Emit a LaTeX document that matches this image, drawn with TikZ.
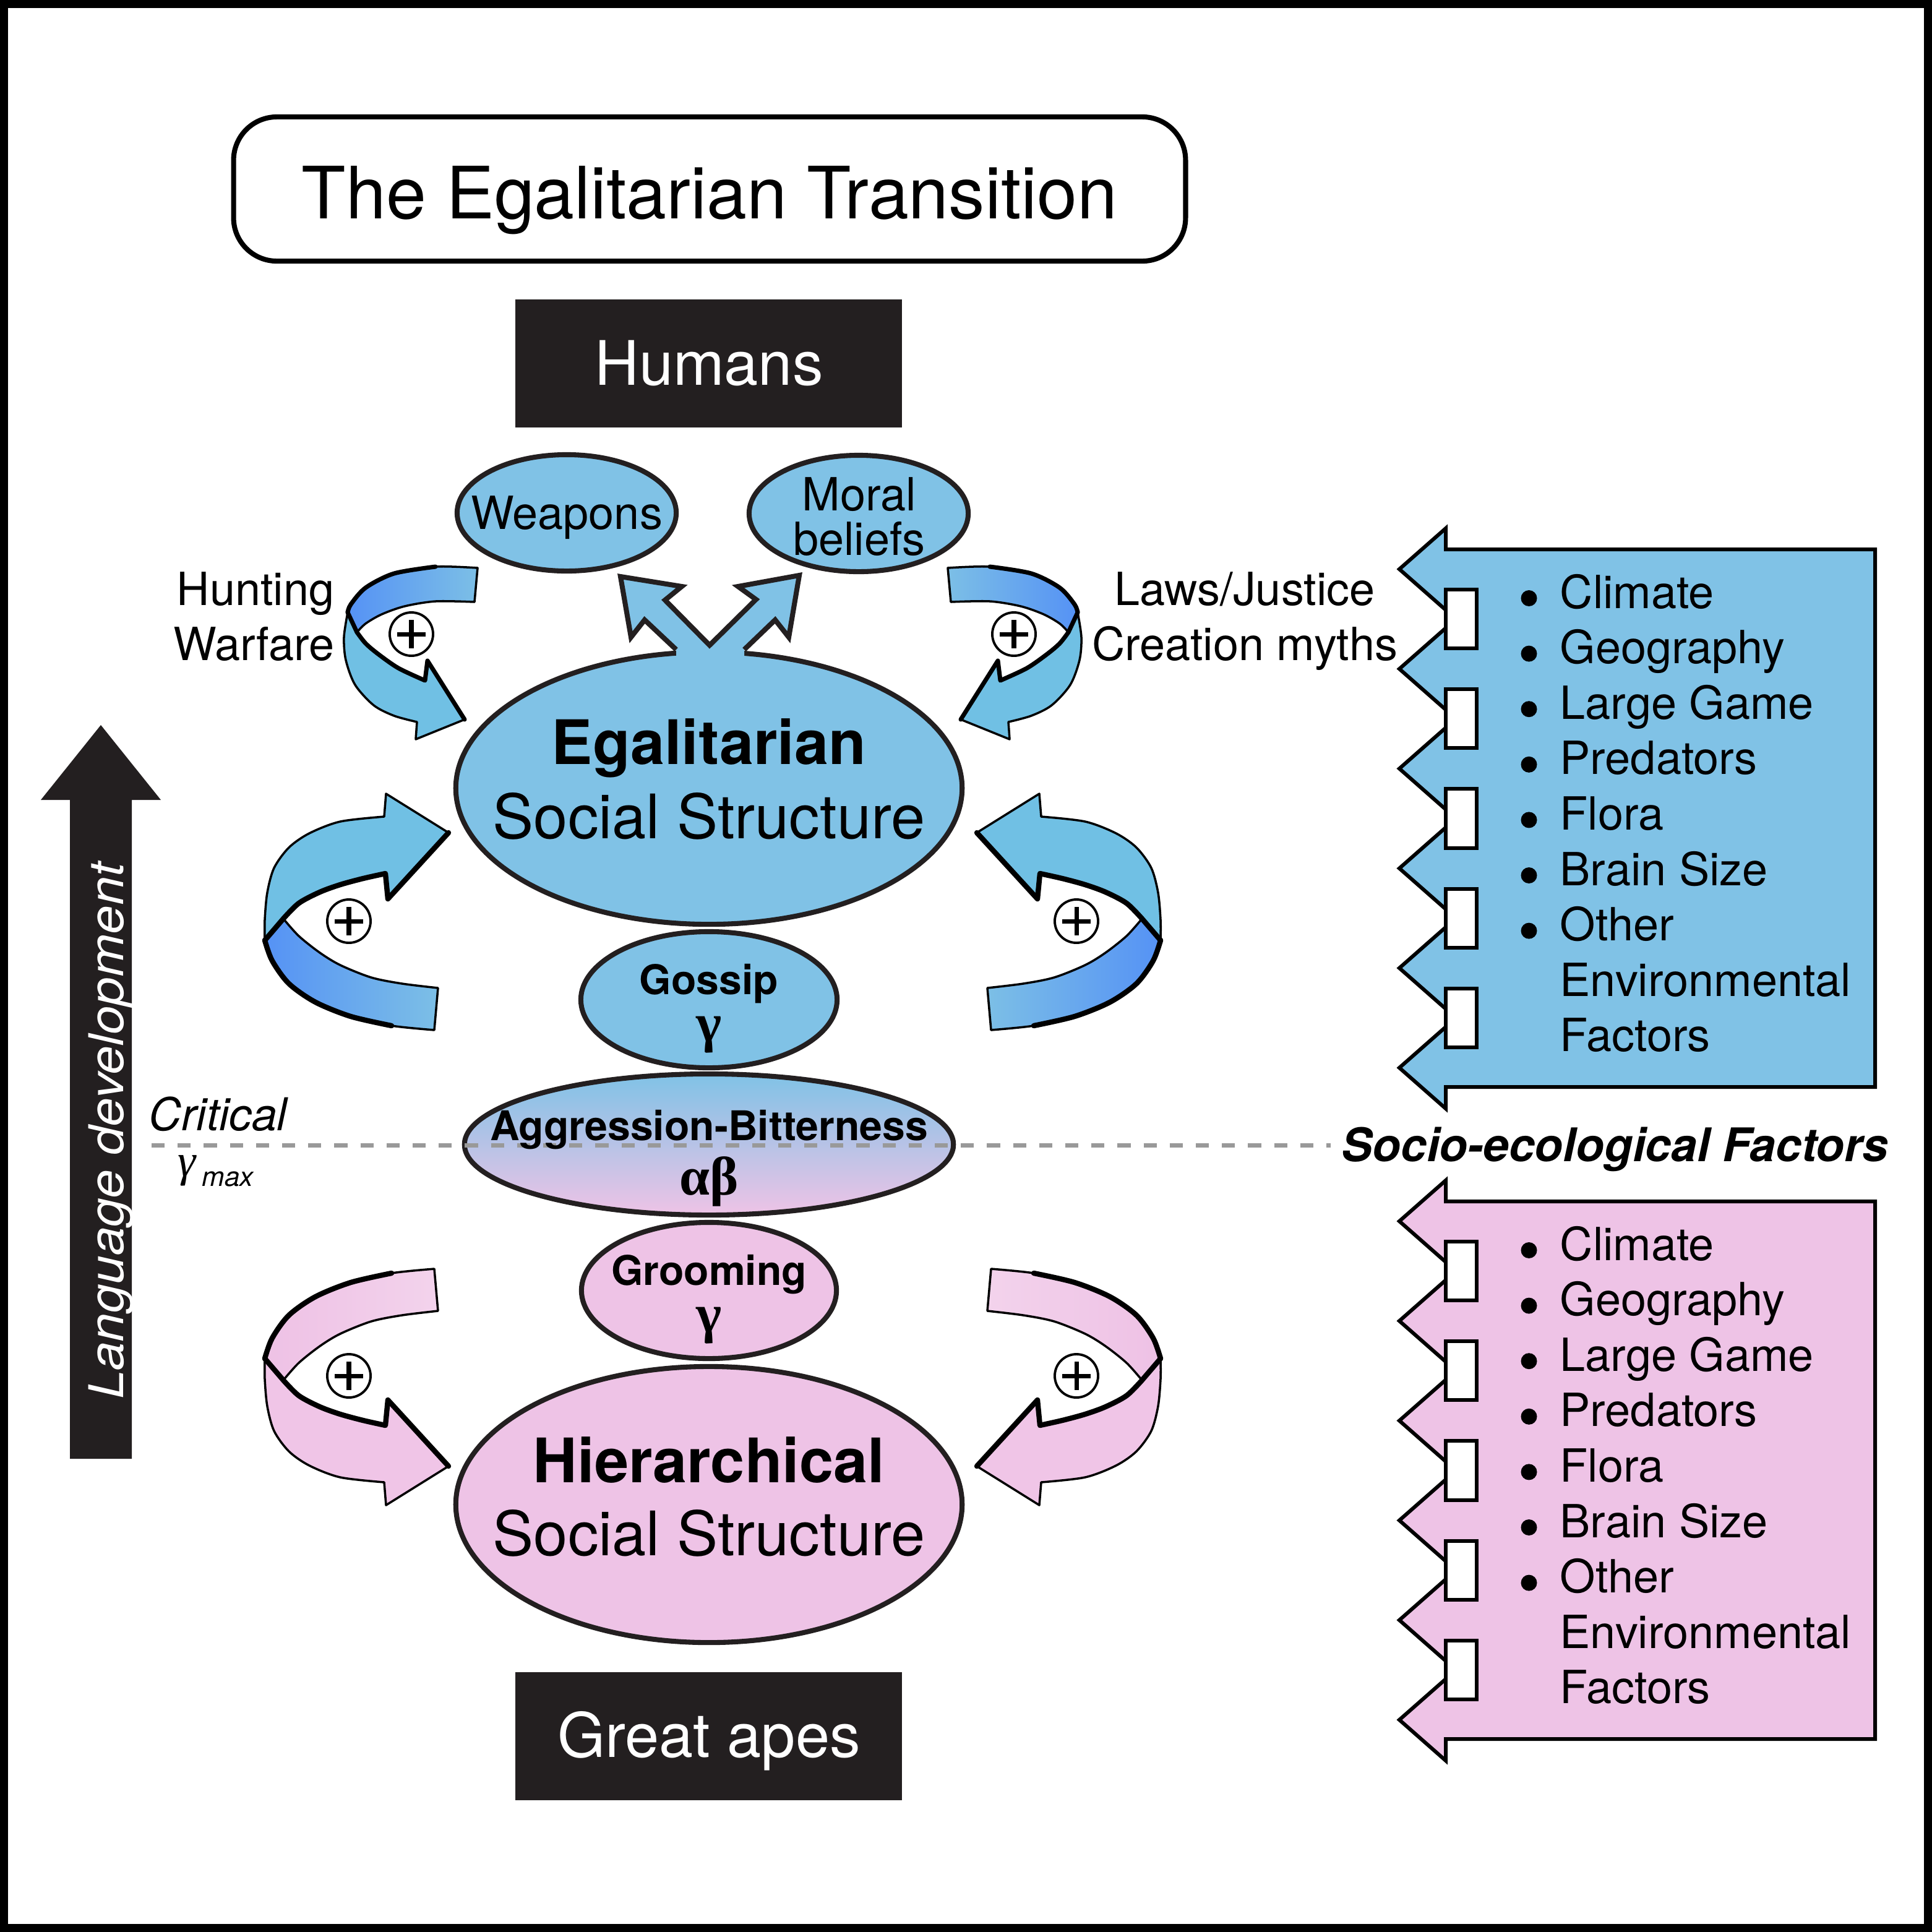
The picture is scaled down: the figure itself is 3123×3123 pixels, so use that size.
\documentclass[tikz,border=0pt]{standalone}
\usepackage{fontspec}
\setmainfont{TeX Gyre Heros}
\newfontfamily\grk{Liberation Serif}
\usetikzlibrary{shapes.geometric}
\definecolor{egblue}{HTML}{80C2E6}
\definecolor{egpink}{HTML}{EEC3E6}
\definecolor{darkbox}{HTML}{231F20}
\definecolor{frontblue}{HTML}{70C0E4}
\definecolor{backdark}{HTML}{5592F5}
\definecolor{backlight}{HTML}{7CBFE6}
\definecolor{pinkfront}{HTML}{F0C5E7}
\definecolor{pinkbackA}{HTML}{EEC1E5}
\definecolor{pinkbackB}{HTML}{F3D3EC}
\definecolor{dashgrey}{HTML}{999999}
\newcommand{\fsz}[1]{\fontsize{#1}{#1}\selectfont}
\tikzset{
  ell/.style={ellipse, draw=darkbox, line width=2.3pt, inner sep=0pt, outer sep=0pt},
  thinl/.style={draw=black, line width=1pt, line join=round},
  thickl/.style={draw=black, line width=2.4pt, line join=round, line cap=round},
  blackbox/.style={fill=darkbox, draw=none, inner sep=0pt},
  txt/.style={inner sep=0pt, anchor=base},
  reg/.style={txt, font=\fsz{21}},
  big/.style={txt, font=\fsz{28.2}},
  bigb/.style={txt, font=\fsz{28.2}\bfseries},
  smb/.style={txt, font=\fsz{18.8}\bfseries},
  greek/.style={txt, font=\fsz{25}\grk\bfseries},
  panel/.style={draw=black, line width=1.7pt, line join=miter},
  notch/.style={fill=white, draw=black, line width=1.7pt},
  pluscirc/.style={circle, draw=black, line width=1.1pt, fill=white, minimum size=0.7cm, inner sep=0pt},
}
\newcommand{\arrowB}[3]{%
\shade[left color=#2, right color=#3, thinl]
  plot[smooth] coordinates {(458,1485) (483,1513) (517,1540) (550,1560) (600,1580) (650,1590) (708,1597)}
  -- (702,1665)
  -- plot[smooth] coordinates {(702,1665) (633,1658) (567,1643) (510,1620) (467,1590) (440,1553) (428,1520)}
  -- cycle;
\filldraw[fill=#1, thinl]
  (624,1283) -- (621,1320)
  -- plot[smooth] coordinates {(621,1320) (550,1328) (500,1347) (467,1370) (443,1403) (432,1443) (428,1487) (428,1520)}
  -- (458,1485)
  -- plot[smooth] coordinates {(458,1485) (483,1460) (517,1442) (550,1430) (587,1420) (623,1412)}
  -- (627,1453) -- (725,1346) -- cycle;
\draw[thickl] (428,1520) -- (458,1485)
  -- plot[smooth] coordinates {(458,1485) (483,1460) (517,1442) (550,1430) (587,1420) (623,1412)}
  -- (627,1453) -- (725,1346);
\draw[thickl] plot[smooth] coordinates {(428,1520) (440,1553) (467,1590) (510,1620) (567,1643) (633,1658)};
}
\newcommand{\arrowA}[3]{%
\shade[left color=#2, right color=#3, thinl]
  plot[smooth] coordinates {(577,1022) (591,1008) (617,993) (654,980) (704,972) (767,973)}
  -- (772,918)
  -- plot[smooth] coordinates {(772,918) (704,916) (637,927) (591,950) (567,977) (562,990)}
  -- cycle;
\filldraw[fill=#1, thinl]
  plot[smooth] coordinates {(562,990) (556,1030) (559,1067) (574,1107) (604,1140) (637,1157) (674,1167)}
  -- (672,1195) -- (751,1163) -- (691,1068) -- (687,1100)
  -- plot[smooth] coordinates {(687,1100) (644,1080) (611,1057) (591,1040) (577,1022)}
  -- cycle;
\draw[thickl, line width=2pt] (562,990) -- plot[smooth] coordinates {(577,1022) (591,1040) (611,1057) (644,1080) (687,1100)} -- (691,1068) -- (751,1163);
\draw[thickl, line width=2pt] plot[smooth] coordinates {(704,916) (637,927) (591,950) (567,977) (562,990)};
}
\begin{document}
\begin{tikzpicture}[x=0.01cm, y=-0.01cm]
\useasboundingbox (0,0) rectangle (3123,3123);
\fill[black] (0,0) rectangle (3123,3123);
\fill[white] (13,13) rectangle (3110,3110);

% title and end boxes
\node[draw=black, line width=2.3pt, rounded corners=0.7cm, minimum width=15.38cm, minimum height=2.33cm, inner sep=0pt] (titlebox) at (1147,305.5) {};
\node[txt, font=\fsz{33.2}] (title) at (1147,353) {The Egalitarian Transition};
\node[blackbox, minimum width=6.25cm, minimum height=2.07cm] (humansbox) at (1145.5,587.5) {};
\node[big, text=white] (humans) at (1146,622) {Humans};
\node[blackbox, minimum width=6.25cm, minimum height=2.07cm] (apesbox) at (1145.5,2806.5) {};
\node[big, text=white] (apes) at (1146,2840) {Great apes};

% language arrow
\fill[darkbox] (113,2358) -- (113,1293) -- (66,1293) -- (163,1172) -- (260,1293) -- (213,1293) -- (213,2358) -- cycle;
\node[txt, rotate=90, text=white, font=\fsz{22}\itshape] (lang) at (199,1828) {\scalebox{1.08}[1]{Language development}};

% curved arrows
\arrowA{frontblue}{backdark}{backlight}
\begin{scope}[shift={(2304,0)}, xscale=-1]
\arrowA{frontblue}{backlight}{backdark}
\end{scope}
\arrowB{frontblue}{backdark}{backlight}
\begin{scope}[shift={(2304,0)}, xscale=-1]
\arrowB{frontblue}{backlight}{backdark}
\end{scope}
\begin{scope}[shift={(0,3716)}, yscale=-1]
\arrowB{pinkfront}{pinkbackA}{pinkbackB}
\end{scope}
\begin{scope}[shift={(2304,3716)}, xscale=-1, yscale=-1]
\arrowB{pinkfront}{pinkbackB}{pinkbackA}
\end{scope}

% ellipses
\node[ell, fill=egblue, minimum width=3.54cm, minimum height=1.88cm] (weapons) at (916,829) {};
\node[ell, fill=egblue, minimum width=3.54cm, minimum height=1.88cm] (moral) at (1388,830) {};
\node[ell, fill=egblue, minimum width=8.18cm, minimum height=4.40cm] (egal) at (1146,1274) {};
\node[ell, fill=egblue, minimum width=4.14cm, minimum height=2.20cm] (gossip) at (1146,1616) {};
\node[ell, top color=egblue, bottom color=egpink, minimum width=7.90cm, minimum height=2.28cm] (aggr) at (1146,1850) {};
\node[ell, fill=egpink, minimum width=4.12cm, minimum height=2.20cm] (groom) at (1146,2086) {};
\node[ell, fill=egpink, minimum width=8.18cm, minimum height=4.46cm] (hier) at (1146,2432) {};

% fork arrow
\fill[egblue] (1093,1050) -- (1042,1002) -- (1020,1030) -- (1003,932) -- (1102,948) -- (1075,970) -- (1147,1043)
  -- (1222,969) -- (1193,948) -- (1292,930) -- (1275,1030) -- (1253,1002) -- (1203,1050) -- (1203,1064) -- (1093,1064) -- cycle;
\draw[darkbox, line width=2.3pt, line join=miter] (1093,1050) -- (1042,1002) -- (1020,1030) -- (1003,932) -- (1102,948) -- (1075,970) -- (1147,1043)
  -- (1222,969) -- (1193,948) -- (1292,930) -- (1275,1030) -- (1253,1002) -- (1203,1050);

% dashed critical line
\coordinate (dashL) at (245,1851);
\coordinate (dashR) at (2151,1851);
\draw[dashgrey, line width=2pt, dash pattern=on 6pt off 6pt] (dashL) -- (dashR);

% texts
\node[reg] (wtxt) at (916,855) {Weapons};
\node[reg] (mtxt1) at (1389,825) {Moral};
\node[reg] (mtxt2) at (1389,897) {beliefs};
\node[reg, anchor=base east] (hunt) at (541,978) {Hunting};
\node[reg, anchor=base east] (war) at (541,1067) {Warfare};
\node[reg] (laws) at (2012,978) {Laws/Justice};
\node[reg] (myth) at (2012,1067) {Creation myths};
\node[bigb] (egt1) at (1146,1235) {Egalitarian};
\node[big] (egt2) at (1146,1355) {Social Structure};
\node[smb] (gost) at (1146,1607) {Gossip};
\node[greek] (gosg) at (1146,1683) {γ};
\node[smb] (aggt) at (1146,1843) {Aggression-Bitterness};
\node[greek] (aggg) at (1146,1931) {αβ};
\node[smb] (grot) at (1146,2077) {Grooming};
\node[greek] (grog) at (1146,2153) {γ};
\node[bigb] (hit1) at (1146,2396) {Hierarchical};
\node[big] (hit2) at (1146,2514) {Social Structure};
\node[txt, anchor=base west, font=\fsz{20.8}\itshape] (crit) at (240,1827) {Critical};
\node[txt, anchor=base west, font=\fsz{21}\grk\itshape] (gam) at (287,1901) {γ};
\node[txt, anchor=base west, font=\fsz{12.5}\itshape] (gmax) at (326,1917) {max};
\node[txt, anchor=base west, font=\fsz{21.3}\bfseries\itshape] (socio) at (2168,1877) {Socio-ecological Factors};

% panels
\foreach \oy/\col in {0/egblue, 1054/egpink} {
\begin{scope}[shift={(0,\oy)}]
\filldraw[panel, fill=\col] (3031,888) -- (2337,888)
  \foreach \i in {0,...,5} { -- (2337,{920+161.2*\i-66}) -- (2262,{920+161.2*\i}) -- (2337,{920+161.2*\i+66}) }
  -- (2337,1757) -- (3031,1757) -- cycle;
\foreach \i in {0,...,4}
  \filldraw[notch] (2337,{920+161.2*\i+33}) rectangle (2387,{920+161.2*(\i+1)-33});
\foreach \t [count=\k from 0] in {Climate,Geography,Large Game,Predators,Flora,Brain Size,Other} {
  \fill (2471.5,{983+89.6*\k-16}) circle[radius=13];
  \node[reg, anchor=base west] (item\oy-\k) at (2521,{983+89.6*\k}) {\t};
}
\node[reg, anchor=base west] (env\oy) at (2521,{983+89.6*7}) {Environmental};
\node[reg, anchor=base west] (fac\oy) at (2521,{983+89.6*8}) {Factors};
\end{scope}
}

% plus signs
\foreach \px/\py [count=\n] in {665/1025, 1639/1025, 564/1489, 1740/1489, 564/2224, 1740/2224} {
  \node[pluscirc] (plus\n) at (\px,\py) {};
  \draw[line width=2pt] ({\px-23},\py) -- ({\px+23},\py) (\px,{\py-23}) -- (\px,{\py+23});
}
\end{tikzpicture}
\end{document}
